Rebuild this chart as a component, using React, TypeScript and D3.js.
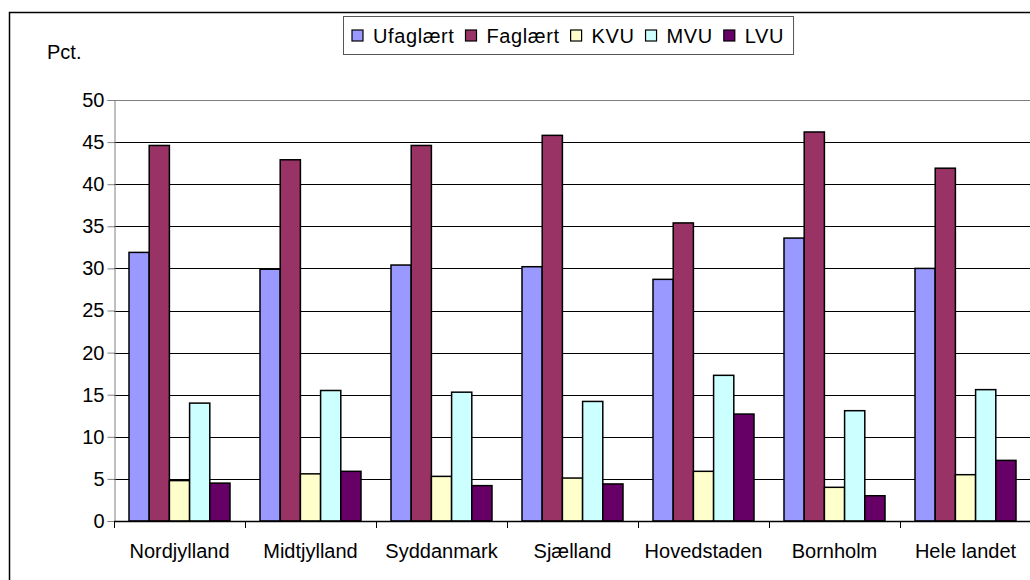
import { useEffect, useRef } from "react";
import * as d3 from "d3";

const CATEGORIES = ["Nordjylland", "Midtjylland", "Syddanmark", "Sjælland", "Hovedstaden", "Bornholm", "Hele landet"];
const SERIES = ["Ufaglært", "Faglært", "KVU", "MVU", "LVU"];
const COLORS = ["#9999ff", "#993366", "#ffffcc", "#ccffff", "#660066"];

const UFAGLAERT = [31.9, 29.9, 30.4, 30.2, 28.7, 33.6, 30.0];
const FAGLAERT = [44.6, 42.9, 44.6, 45.8, 35.4, 46.2, 41.9];
const KVU = [4.8, 5.6, 5.3, 5.1, 5.9, 4.0, 5.5];
const MVU = [14.0, 15.5, 15.3, 14.2, 17.3, 13.1, 15.6];
const LVU = [4.5, 5.9, 4.2, 4.4, 12.7, 3.0, 7.2];

const Y_TICKS = [0, 5, 10, 15, 20, 25, 30, 35, 40, 45, 50];

const FONT = "'Liberation Sans', Arial, sans-serif";

export default function App() {
  const ref = useRef<SVGSVGElement>(null);

  useEffect(() => {
    const svg = d3.select(ref.current);
    svg.selectAll("*").remove();

    const W = 1030, H = 580;
    const margin = { left: 114, right: -1, top: 100, bottom: 59 };

    svg.attr("width", W).attr("height", H).style("font-family", FONT);

    // outer chart border (runs off the right and bottom of the picture)
    svg.append("rect")
      .attr("x", 9.5).attr("y", 12.5)
      .attr("width", W + 20).attr("height", H + 20)
      .attr("fill", "#fff").attr("stroke", "#000").attr("stroke-width", 1.5);

    const x = d3.scaleBand().domain(CATEGORIES).range([margin.left, W - margin.right]);
    const inner = d3.scaleBand().domain(SERIES).range([15, x.bandwidth() - 15]);
    const y = d3.scaleLinear().domain([0, 50]).range([H - margin.bottom, margin.top]);

    const table = [UFAGLAERT, FAGLAERT, KVU, MVU, LVU];
    const x0 = margin.left, x1 = W - margin.right;

    // gridlines
    svg.append("g")
      .selectAll("line")
      .data(Y_TICKS.filter(t => t > 0))
      .join("line")
      .attr("x1", x0).attr("x2", x1)
      .attr("y1", d => Math.round(y(d)) + 0.5).attr("y2", d => Math.round(y(d)) + 0.5)
      .attr("stroke", d => (d === 50 ? "#808080" : "#000")).attr("stroke-width", 1);

    // bars
    const groups = svg.append("g")
      .selectAll("g")
      .data(SERIES)
      .join("g")
      .attr("fill", (_, i) => COLORS[i]);

    groups.selectAll("rect")
      .data((s, si) => CATEGORIES.map((c, ci) => ({ c, s, v: table[si][ci] })))
      .join("rect")
      .attr("x", d => (x(d.c) as number) + (inner(d.s) as number))
      .attr("width", inner.bandwidth())
      .attr("y", d => y(d.v))
      .attr("height", d => y(0) - y(d.v))
      .attr("stroke", "#000")
      .attr("stroke-width", 1.5);

    // y axis
    const yAxis = svg.append("g")
      .attr("transform", `translate(${x0 + 0.5},0)`)
      .call(d3.axisLeft(y).tickValues(Y_TICKS).tickSize(7).tickPadding(3).tickFormat(d3.format("d")));
    yAxis.select(".domain").attr("stroke", "#808080");
    yAxis.selectAll(".tick line").attr("stroke", "#808080");
    yAxis.selectAll("text").attr("font-size", "20px").attr("font-family", FONT).attr("fill", "#000");

    // x axis with ticks between categories
    const boundaries = CATEGORIES.map(c => x(c) as number).concat([x1]);
    svg.append("line")
      .attr("x1", x0).attr("x2", x1)
      .attr("y1", y(0) + 0.5).attr("y2", y(0) + 0.5)
      .attr("stroke", "#000").attr("stroke-width", 1.5);
    svg.append("g")
      .selectAll("line")
      .data(boundaries)
      .join("line")
      .attr("x1", d => Math.round(d) + 0.5).attr("x2", d => Math.round(d) + 0.5)
      .attr("y1", y(0)).attr("y2", y(0) + 7)
      .attr("stroke", "#000");
    svg.append("g")
      .selectAll("text")
      .data(CATEGORIES)
      .join("text")
      .attr("x", d => (x(d) as number) + x.bandwidth() / 2)
      .attr("y", 558)
      .attr("text-anchor", "middle")
      .attr("font-size", "20px")
      .text(d => d);

    // unit label
    svg.append("text").attr("x", 47).attr("y", 59).attr("font-size", "20px").text("Pct.");

    // legend
    const legend = svg.append("g");
    const items = legend.selectAll("g").data(SERIES).join("g");
    items.append("rect")
      .attr("width", 11).attr("height", 11)
      .attr("y", -6)
      .attr("fill", (_, i) => COLORS[i])
      .attr("stroke", "#000").attr("stroke-width", 1.2);
    items.append("text")
      .attr("x", 21).attr("dy", "0.35em")
      .attr("font-size", "20px")
      .attr("letter-spacing", "0.6px")
      .text(d => d);
    let cx = 0;
    items.each(function () {
      const g = d3.select(this);
      const tw = (g.select("text").node() as SVGTextElement).getComputedTextLength();
      g.attr("transform", `translate(${cx},0)`);
      cx += 21 + tw + 11;
    });
    const legW = cx - 11 + 8 + 10;
    const legX = Math.round(569 - legW / 2);
    legend.insert("rect", ":first-child")
      .attr("x", -8.5).attr("y", -19.5)
      .attr("width", legW).attr("height", 38)
      .attr("fill", "#fff").attr("stroke", "#555").attr("stroke-width", 1);
    legend.attr("transform", `translate(${legX + 8},36)`);
  }, []);

  return (
    <svg ref={ref} style={{ position: "absolute", left: 0, top: 0, display: "block" }} />
  );
}
